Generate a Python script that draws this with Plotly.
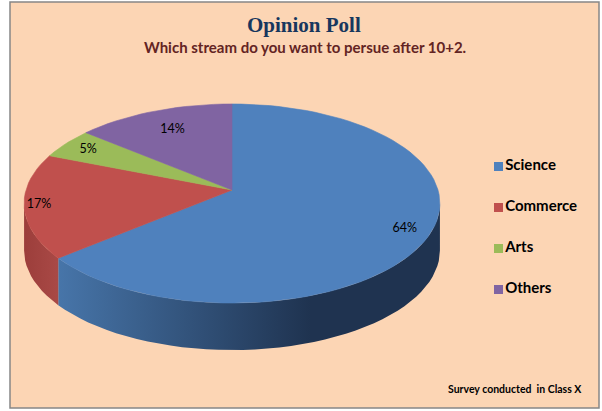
import math
import plotly.graph_objects as go

# ---------------- data ----------------
categories = ["Science", "Commerce", "Arts", "Others"]
values = [64, 17, 5, 14]
colors = ["#4F81BD", "#C0504D", "#9BBB59", "#8064A2"]
side_scales = [
    [[0, "#4775A9"], [0.66, "#1F3350"], [1, "#1F3350"]],
    [[0, "#9C3E3B"], [1, "#A94946"]],
    [[0, "#7A9446"], [1, "#7A9446"]],
    [[0, "#644E80"], [1, "#644E80"]],
]
title_text = "Opinion Poll"
subtitle_text = "Which stream do you want to persue after 10+2."
footnote_text = "Survey conducted  in Class X"

# ---------------- geometry / style ----------------
W, H = 602, 411
CX, CY = 232.0, 190.0      # projected centre of the pie (apex)
RX, RY = 206.0, 97.7       # radii of the top face
K = 0.1357                 # perspective factor
DEPTH = 47.0               # thickness of the pie
LABEL_R = [0.88, 0.93, 0.86, 0.74]
LEG_X, LEG_Y0, LEG_STEP = 498.5, 166.5, 41.0
N_ARC = 120


def proj(phi_deg, r=1.0, dz=0.0):
    p = math.radians(phi_deg)
    u, v = r * math.cos(p), r * math.sin(p)
    s = 1.0 / (1.0 + K * v)
    return CX + RX * u * s, CY - RY * v * s + dz


def arc(a, b, r=1.0, dz=0.0):
    n = max(2, int(abs(b - a) / 360 * N_ARC) + 2)
    pts = [proj(a + (b - a) * i / (n - 1), r, dz) for i in range(n)]
    return [p[0] for p in pts], [p[1] for p in pts]


total = float(sum(values))
starts, ends = [], []
cum = 0.0
for v in values:
    starts.append(90.0 - 360.0 * cum / total)
    cum += v
    ends.append(90.0 - 360.0 * cum / total)

phi_r = -math.degrees(math.asin(K))
phi_l = -180.0 + math.degrees(math.asin(K))

fig = go.Figure()

# sides (front, visible part)
for i, cat in enumerate(categories):
    hi, lo = starts[i], ends[i]
    for off in (0.0, 360.0, -360.0):
        a = min(hi + off, phi_r)
        b = max(lo + off, phi_l)
        if a > b:
            tx, ty = arc(a, b)
            bx, by = arc(b, a, dz=DEPTH)
            fig.add_trace(go.Scatter(
                x=tx + bx + [tx[0]], y=ty + by + [ty[0]],
                mode="lines", fill="toself", line=dict(width=0),
                fillgradient=dict(type="horizontal", colorscale=side_scales[i]),
                hoverinfo="skip", showlegend=False))

# top faces
for i, cat in enumerate(categories):
    ax, ay = arc(starts[i], ends[i])
    fig.add_trace(go.Scatter(
        x=[CX] + ax + [CX], y=[CY] + ay + [CY],
        mode="lines", fill="toself", fillcolor=colors[i],
        line=dict(width=0.6, color=colors[i]),
        name=cat, text=f"{cat}: {values[i]}%", hoverinfo="text",
        showlegend=False))

# percentage labels
lx, ly, lt = [], [], []
for i, v in enumerate(values):
    mid = (starts[i] + ends[i]) / 2.0
    x, y = proj(mid, LABEL_R[i])
    lx.append(x)
    ly.append(y)
    lt.append(f"{round(100 * v / total)}%")
fig.add_trace(go.Scatter(
    x=lx, y=ly, text=lt, mode="text", textposition="middle center",
    textfont=dict(family="Lato", size=12.5, color="#000000"),
    hoverinfo="skip", showlegend=False))

# legend
fig.add_trace(go.Scatter(
    x=[LEG_X] * len(categories),
    y=[LEG_Y0 + LEG_STEP * i for i in range(len(categories))],
    text=categories, mode="markers+text", textposition="middle right",
    marker=dict(symbol="square", size=9, color=colors, line=dict(width=0)),
    textfont=dict(family="Lato", size=15, color="#000000", weight="bold"),
    hoverinfo="skip", showlegend=False))

fig.update_layout(
    width=W, height=H,
    margin=dict(l=0, r=0, t=0, b=0),
    paper_bgcolor="white", plot_bgcolor="rgba(0,0,0,0)",
    xaxis=dict(range=[0, W], visible=False, fixedrange=True),
    yaxis=dict(range=[H, 0], visible=False, fixedrange=True),
    showlegend=False,
    shapes=[dict(type="rect", xref="paper", yref="paper",
                 x0=10 / W, x1=599 / W, y0=1 - 408 / H, y1=1 - 2 / H,
                 fillcolor="#FCD5B4", line=dict(color="#868686", width=1.5),
                 layer="below")],
    annotations=[
        dict(x=304, y=25, xref="x", yref="y", text=f"<b>{title_text}</b>",
             showarrow=False, font=dict(family="Liberation Serif", size=21, color="#17375E")),
        dict(x=305, y=47, xref="x", yref="y", text=f"<b>{subtitle_text}</b>",
             showarrow=False, font=dict(family="Lato", size=15, color="#632423")),
        dict(x=584, y=389, xref="x", yref="y", xanchor="right",
             text=f"<b>{footnote_text}</b>",
             showarrow=False, font=dict(family="Lato", size=10.5, color="#000000")),
    ],
)

fig.write_html(
    "out.html",
    config={"displayModeBar": False},
    post_script="document.body.style.margin='0px';"
                "document.documentElement.style.overflow='hidden';",
)
